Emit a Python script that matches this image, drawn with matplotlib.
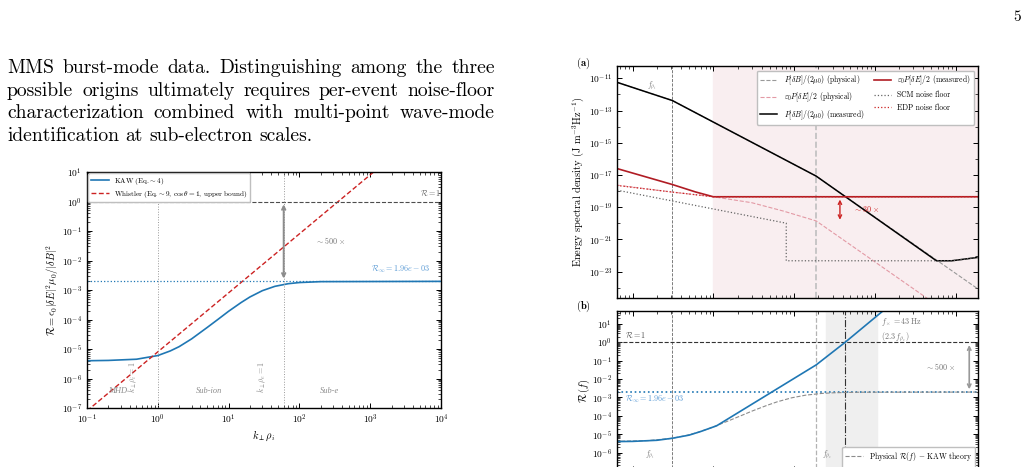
import matplotlib
matplotlib.use("Agg")
import matplotlib.pyplot as plt
import numpy as np
from matplotlib.ticker import LogLocator, NullFormatter

plt.rcParams['font.family'] = ['cmr10', 'DejaVu Serif']
plt.rcParams['mathtext.fontset'] = 'cm'
plt.rcParams['axes.formatter.use_mathtext'] = True
plt.rcParams['axes.unicode_minus'] = False

# ---- page text ----
para = [
    "MMS burst-mode data.  Distinguishing among the three",
    "possible origins ultimately requires per-event noise-floor",
    "characterization combined with multi-point wave-mode",
    "identification at sub-electron scales.",
]
page_no = "5"

# ---- left figure: R vs k_perp rho_i ----
k_kaw = [0.1, 0.2, 0.5, 1, 1.5, 2, 3, 5, 7, 10, 15, 20, 30, 45, 70, 100, 200, 1e4]
R_kaw = [4.0e-6, 4.1e-6, 4.5e-6, 6.0e-6, 8.6e-6, 1.2e-5, 2.2e-5, 5.4e-5, 9.9e-5,
         1.9e-4, 3.75e-4, 5.8e-4, 9.5e-4, 1.33e-3, 1.64e-3, 1.79e-3, 1.92e-3, 1.96e-3]
k_wh = [0.1, 1e4]
R_wh = [8e-8, 8e2]
R_inf = 1.96e-3
k_e = 60          # k_perp rho_e = 1

# ---- panel (a): spectra ----
f_rhoi = 0.31
f_rhoe = 18.8
f_x = 43
f_B_meas = [0.064, 0.31, 18.8, 580, 900, 1900]
P_B_meas = [10**-11.25, 10**-12.38, 10**-17.07, 10**-22.32, 10**-22.32, 10**-22.11]
f_B_phys = [0.064, 0.31, 18.8, 1900]
P_B_phys = [10**-11.25, 10**-12.38, 10**-17.07, 10**-24.07]
f_E_meas = [0.064, 0.31, 0.6, 1.0, 1900]
P_E_meas = [10**-16.6, 10**-17.59, 10**-18.05, 10**-18.35, 10**-18.35]
f_E_phys = [0.064, 0.31, 1.0, 3.0, 7.4, 18.8, 1900]
P_E_phys = [10**-17.63, 10**-18.06, 10**-18.35, 10**-18.72, 10**-19.24, 10**-19.85, 10**-26.85]
f_scm = [0.064, 8, 8, 900, 1900]
P_scm = [10**-17.94, 10**-19.99, 10**-22.32, 10**-22.32, 10**-22.11]
f_edp = [0.064, 0.31, 1.0, 1900]
P_edp = [10**-17.65, 10**-18.06, 10**-18.35, 10**-18.35]

# ---- panel (b): R(f) ----
f_meas = [0.064, 0.1, 0.2, 0.31, 0.5, 0.7, 1.1, 18.8, 43, 130]
R_meas = [10**-5.40, 10**-5.39, 10**-5.33, 10**-5.22, 10**-5.05, 10**-4.85,
          10**-4.54, 10**-1.23, 1.0, 10**1.75]
band = (25, 106)

blue = '#1f77b4'
lblue = '#5b9bd5'
red = '#cc2222'
dred = '#b01c24'
pink = '#e39aa5'

W, H = 1028, 467
fig = plt.figure(figsize=(W / 100, H / 100), dpi=100)


def add_px(l, t, r, b):
    return fig.add_axes([l / W, 1 - b / H, (r - l) / W, (b - t) / H])


def style(ax):
    ax.tick_params(which='both', direction='in', top=True, right=True, labelsize=6.8)
    ax.tick_params(which='major', length=3.5, width=0.7)
    ax.tick_params(which='minor', length=2, width=0.5)
    for s in ax.spines.values():
        s.set_linewidth(1.0)


def justify(lines, x0, x1, y0, dy, size):
    r = fig.canvas.get_renderer()
    for i, line in enumerate(lines):
        words = line.split()
        y = 1 - (y0 + i * dy) / H
        ts = [fig.text(0, y, w, fontsize=size, va='baseline') for w in words]
        ws = [t.get_window_extent(r).width for t in ts]
        if i == len(lines) - 1:
            gap = 0.33 * size * 100 / 72
        else:
            gap = (x1 - x0 - sum(ws)) / (len(ws) - 1)
        x = x0
        for t, w in zip(ts, ws):
            t.set_x(x / W)
            x += w + gap


justify(para, 7, 495, 72.7, 22.8, 14.1)
fig.text(1017 / W, 1 - 17 / H, page_no, fontsize=11, ha='center', va='center')

ital = dict(family=['Liberation Serif'], style='italic')

# ================= left figure =================
ax = add_px(87, 172, 441, 408)
ax.set_xscale('log')
ax.set_yscale('log')
ax.set_xlim(0.1, 1e4)
ax.set_ylim(1e-7, 10)
ax.yaxis.set_major_locator(LogLocator(base=10, numticks=20))
ax.yaxis.set_minor_locator(LogLocator(base=10, subs=np.arange(2, 10), numticks=20))
ax.yaxis.set_minor_formatter(NullFormatter())
style(ax)
ax.plot(k_kaw, R_kaw, color=blue, lw=1.2, label=r'KAW (Eq.$\sim$4)')
ax.plot(k_wh, R_wh, color=red, lw=1.0, ls=(0, (3.5, 1.8)),
        label=r'Whistler (Eq.$\sim$9, $\cos\theta=1$, upper bound)')
ax.axhline(1, color='0.3', ls='--', lw=0.8)
ax.axhline(R_inf, color=blue, ls=':', lw=0.9)
for kv in [1, k_e]:
    ax.axvline(kv, color='0.6', ls=':', lw=0.7)
ax.annotate('', xy=(k_e, R_inf), xytext=(k_e, 1),
            arrowprops=dict(arrowstyle='<->', color='0.55', lw=1.4, mutation_scale=6))
ax.text(270, 0.046, r'$\sim500\,\times$', color='0.45', fontsize=5.8, ha='center', va='center')
ax.text(1.0, 2.0, r'$\mathcal{R}=1$', color='0.4', fontsize=5.8, ha='right', va='center',
        transform=ax.get_yaxis_transform())
ax.text(7000, 5.1e-3, r'$\mathcal{R}_\infty=1.96e-03$', color=lblue, fontsize=5.8,
        ha='right', va='center')
ax.text(0.45, 1.1e-6, r'$k_\perp\rho_i=1$', color='0.55', fontsize=5.8, rotation=90,
        ha='center', va='center')
ax.text(29.6, 1.1e-6, r'$k_\perp\rho_e=1$', color='0.55', fontsize=5.8, rotation=90,
        ha='center', va='center')
for xx, s in [(0.27, 'MHD'), (5.3, 'Sub-ion'), (270, 'Sub-e')]:
    ax.text(xx, 3.8e-7, s, color='0.55', fontsize=6, ha='center', va='center', **ital)
ax.set_xlabel(r'$k_\perp\rho_i$', fontsize=7.5, labelpad=2)
ax.set_ylabel(r'$\mathcal{R}=\epsilon_0|\delta E|^2\mu_0/|\delta B|^2$', fontsize=7.5, labelpad=0.5)
ax.legend(loc='upper left', fontsize=5.2, framealpha=1, edgecolor='0.75',
          borderaxespad=0.2, handlelength=2.5, labelspacing=0.3, borderpad=0.3)

# ================= panel (a) =================
axa = add_px(617, 65.7, 978, 298)
axa.set_xscale('log')
axa.set_yscale('log')
axa.set_xlim(0.064, 1900)
axa.set_ylim(10**-24.63, 10**-10.22)
axa.set_yticks([10.0**e for e in range(-23, -10, 2)])
axa.yaxis.set_minor_locator(LogLocator(base=10, subs=(1.0,), numticks=40))
axa.yaxis.set_minor_formatter(NullFormatter())
style(axa)
axa.tick_params(labelbottom=False)
axa.axvspan(1.0, 1900, color='#f9eef0', zorder=0)
axa.axvline(f_rhoi, color='0.4', ls='--', lw=0.6)
axa.axvline(f_rhoe, color='0.75', ls='--', lw=1.2)
axa.plot(f_B_phys, P_B_phys, color='0.6', ls='--', lw=0.8, label=r'$P[\delta B]/(2\mu_0)$ (physical)')
axa.plot(f_E_phys, P_E_phys, color=pink, ls='--', lw=0.8, label=r'$\varepsilon_0P[\delta E]/2$ (physical)')
axa.plot(f_B_meas, P_B_meas, color='k', lw=1.1, label=r'$P[\delta B]/(2\mu_0)$ (measured)')
axa.plot(f_E_meas, P_E_meas, color=dred, lw=1.2, label=r'$\varepsilon_0P[\delta E]/2$ (measured)')
axa.plot(f_scm, P_scm, color='0.4', ls=':', lw=0.9, label='SCM noise floor')
axa.plot(f_edp, P_edp, color=red, ls=':', lw=0.9, label='EDP noise floor')
axa.annotate('', xy=(37, 10**-19.95), xytext=(37, 10**-18.35),
             arrowprops=dict(arrowstyle='<->', color=red, lw=1.0, mutation_scale=6))
axa.text(54, 10**-19.09, r'$\sim30\,\times$', color=red, fontsize=5.8, ha='left', va='center')
axa.text(0.173, 10**-11.48, r'$f_{\rho_i}$', color='0.5', fontsize=5.8, ha='center', va='center')
axa.set_ylabel(r'Energy spectral density (J m$^{-3}$Hz$^{-1}$)', fontsize=7.5, labelpad=2)
axa.legend(loc='upper right', bbox_to_anchor=(0.989, 0.978), borderaxespad=0, ncol=2,
           fontsize=5.5, framealpha=1, edgecolor='0.75', handlelength=2.3, columnspacing=1.2)
fig.text(583 / W, 1 - 63 / H, r'$\mathbf{(a)}$', fontsize=7.5, ha='center', va='center')

# ================= panel (b) =================
axb = add_px(617, 311, 978, 471)
axb.set_xscale('log')
axb.set_yscale('log')
axb.set_xlim(0.064, 1900)
axb.set_ylim(1e-7, 50)
axb.yaxis.set_major_locator(LogLocator(base=10, numticks=20))
axb.yaxis.set_minor_locator(LogLocator(base=10, subs=np.arange(2, 10), numticks=20))
axb.yaxis.set_minor_formatter(NullFormatter())
style(axb)
axb.tick_params(labelbottom=False)
axb.axvspan(*band, color='#efefef', zorder=0)
axb.axvline(f_rhoi, color='0.4', ls='--', lw=0.6)
axb.axvline(f_rhoe, color='0.7', ls='--', lw=0.9)
axb.axvline(f_x, color='0.2', ls='-.', lw=0.8)
axb.axhline(1, color='0.2', ls='--', lw=0.8)
axb.axhline(R_inf, color=blue, ls=':', lw=1.2)
axb.plot([k * f_rhoi for k in k_kaw], R_kaw, color='0.55', ls='--', lw=0.8,
         label=r'Physical $\mathcal{R}(f)$ $-$ KAW theory')
axb.plot(f_meas, R_meas, color=blue, lw=1.2, label=r'Measured $\mathcal{R}(f)$')
axb.annotate('', xy=(1480, R_inf), xytext=(1480, 1),
             arrowprops=dict(arrowstyle='<->', color='0.6', lw=1.2, mutation_scale=6))
axb.text(645, 10**-1.32, r'$\sim500\,\times$', color='0.45', fontsize=5.8, ha='center', va='center')
axb.text(0.081, 1.25, r'$\mathcal{R}=1$', color='0.35', fontsize=5.8, ha='left', va='bottom')
axb.text(0.081, 10**-3.08, r'$\mathcal{R}_\infty=1.96e-03$', color=lblue, fontsize=5.8,
         ha='left', va='center')
axb.text(119, 10**0.67, '$f_\\times=43\\,\\mathrm{Hz}$\n$(2.3\\,f_{\\rho_e})$', color='0.45',
         fontsize=5.8, ha='left', va='center', linespacing=1.3)
axb.text(0.165, 10**-6.12, r'$f_{\rho_i}$', color='0.5', fontsize=5.8, ha='center', va='center')
axb.text(26, 10**-6.12, r'$f_{\rho_e}$', color='0.5', fontsize=5.8, ha='center', va='center')
axb.set_ylabel(r'$\mathcal{R}\,(f)$', fontsize=7.5, labelpad=0)
axb.legend(loc='upper right', bbox_to_anchor=(0.992, 0.152), borderaxespad=0,
           fontsize=5.5, framealpha=1, edgecolor='0.75', handlelength=2.3)
fig.text(583 / W, 1 - 306 / H, r'$\mathbf{(b)}$', fontsize=7.5, ha='center', va='center')

fig.savefig('out.png', dpi=100)
